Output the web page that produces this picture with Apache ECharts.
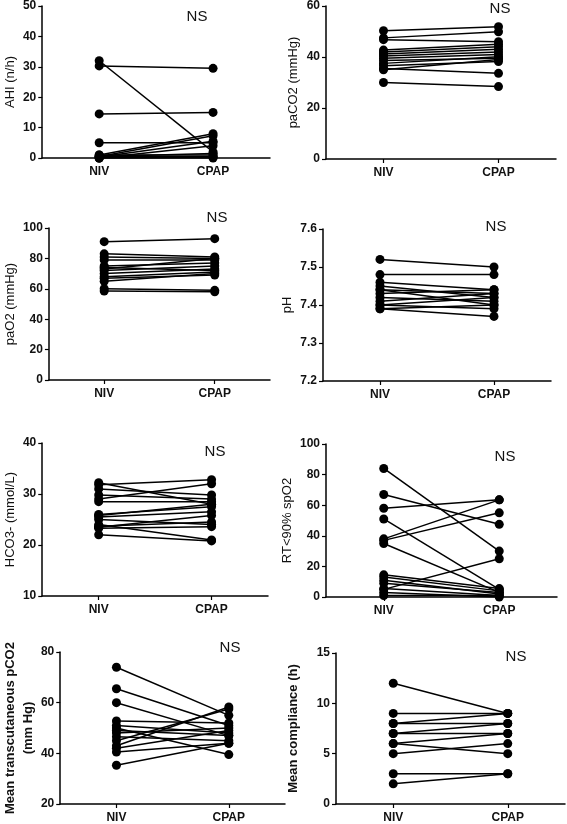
<!DOCTYPE html>
<html>
<head>
<meta charset="utf-8">
<script src="https://cdn.jsdelivr.net/npm/echarts@6/dist/echarts.min.js"></script>
<style>html,body{margin:0;padding:0;background:#fff;}#c{width:567px;height:824px;}</style>
</head>
<body>
<div id="c"></div>
<script>
var categories = ['NIV', 'CPAP'];

var ahiNIV  = [32, 30.3, 14.5, 5, 1, 0.5, 0.3, 0, 1, 0.5, 0, 0, 0.5];
var ahiCPAP = [2, 29.5, 15, 5, 8, 7.3, 5.5, 4, 1, 0.5, 0.3, 0, 1.5];

var paco2NIV  = [50.3, 47.5, 46.8, 42.7, 42, 41.2, 40.4, 39.5, 38.6, 37.5, 36.6, 35.5, 35, 30];
var paco2CPAP = [51.9, 49.9, 46, 45, 44, 43, 42, 41, 39.5, 40.1, 38.2, 33.6, 39, 28.4];

var pao2NIV  = [91, 83, 81, 79, 75, 74, 73, 72, 70, 68, 67, 65, 60, 58.5];
var pao2CPAP = [93, 81, 80, 79, 77, 72, 80, 75, 73, 71, 69, 70, 59, 58];

var phNIV  = [7.52, 7.48, 7.46, 7.45, 7.44, 7.43, 7.42, 7.41, 7.40, 7.40, 7.39, 7.39, 7.44];
var phCPAP = [7.50, 7.48, 7.44, 7.42, 7.43, 7.44, 7.41, 7.43, 7.42, 7.39, 7.37, 7.40, 7.40];

var hco3NIV  = [32.2, 31.8, 31, 29.8, 29, 28.5, 26, 25.8, 25.5, 25, 24, 23.7, 23.5, 23.3, 22];
var hco3CPAP = [28, 32.8, 29.8, 29, 32, 28.5, 27.5, 28, 26.5, 24, 21, 24.5, 25.8, 23.6, 20.8];

var rtNIV  = [84, 67, 58, 51, 38, 37, 35, 5, 14.5, 13, 11, 9, 5.5, 3, 1];
var rtCPAP = [30, 47.5, 63.5, 5, 63.5, 55, 3, 25, 5.5, 4, 2, 3, 1, 0, 1];

var tcNIV  = [74, 65.5, 60, 52.8, 51, 50, 49, 48, 46.5, 45, 43, 42, 40.5, 35.3];
var tcCPAP = [55, 51, 47, 52, 48, 39.5, 47, 50, 45, 57.5, 58.3, 49, 44, 44];

var compNIV  = [12, 9, 8, 8, 7, 7, 6, 6, 5, 3, 2];
var compCPAP = [9, 9, 9, 8, 8, 7, 7, 5, 6, 3, 3];

var yTitles = ['AHI (n/h)', 'paCO2 (mmHg)', 'paO2 (mmHg)', 'pH', 'HCO3- (mmol/L)', 'RT<90% spO2', 'Mean transcutaneous pCO2\n(mm Hg)', 'Mean compliance (h)'];
var sigLabels = ['NS', 'NS', 'NS', 'NS', 'NS', 'NS', 'NS', 'NS'];

var panels = [
  {niv: ahiNIV, cpap: ahiCPAP, min: 0, max: 50, interval: 10, dec: 0,
   grid: {left: 41, top: 6, width: 229, height: 152}, gap: 22, bold: false, ns: [197, 17]},
  {niv: paco2NIV, cpap: paco2CPAP, min: 0, max: 60, interval: 20, dec: 0,
   grid: {left: 326, top: 6, width: 230, height: 153}, gap: 21, bold: false, ns: [500, 9]},
  {niv: pao2NIV, cpap: pao2CPAP, min: 0, max: 100, interval: 20, dec: 0,
   grid: {left: 41, top: 228, width: 229, height: 152}, gap: 26, bold: false, ns: [217, 218]},
  {niv: phNIV, cpap: phCPAP, min: 7.2, max: 7.6, interval: 0.1, dec: 1,
   grid: {left: 323, top: 229, width: 228, height: 152}, gap: 26, bold: false, ns: [496, 227]},
  {niv: hco3NIV, cpap: hco3CPAP, min: 10, max: 40, interval: 10, dec: 0,
   grid: {left: 40, top: 443, width: 228, height: 153}, gap: 22, bold: false, ns: [215, 452]},
  {niv: rtNIV, cpap: rtCPAP, min: 0, max: 100, interval: 20, dec: 0,
   grid: {left: 326, top: 444, width: 231, height: 153}, gap: 26, bold: false, ns: [505, 457]},
  {niv: tcNIV, cpap: tcCPAP, min: 20, max: 80, interval: 20, dec: 0,
   grid: {left: 53, top: 652, width: 232, height: 153}, gap: 19, bold: true, ns: [230, 648]},
  {niv: compNIV, cpap: compCPAP, min: 0, max: 15, interval: 5, dec: 0,
   grid: {left: 336, top: 653, width: 229, height: 153}, gap: 34, bold: true, ns: [516, 657]}
];

var FONT = 'Liberation Sans, Arial, sans-serif';
var grids = [], xAxes = [], yAxes = [], series = [], graphics = [];

panels.forEach(function (p, k) {
  grids.push(p.grid);
  xAxes.push({
    type: 'category', gridIndex: k, data: categories, boundaryGap: true,
    axisLine: {lineStyle: {color: '#000', width: 1.5}},
    axisTick: {show: true, alignWithLabel: true, length: 4, lineStyle: {color: '#000', width: 1.2}},
    axisLabel: {color: '#111', fontFamily: FONT, fontSize: 12, fontWeight: 'bold', margin: 8},
    splitLine: {show: false}
  });
  (function (dec) {
    yAxes.push({
      type: 'value', gridIndex: k, min: p.min, max: p.max, interval: p.interval,
      name: yTitles[k], nameLocation: 'middle', nameGap: p.gap, nameRotate: 90,
      nameTextStyle: {color: '#111', fontFamily: FONT, fontSize: 13, fontWeight: p.bold ? 'bold' : 'normal', lineHeight: 18},
      axisLine: {show: true, lineStyle: {color: '#000', width: 1.5}},
      axisTick: {show: true, length: 4, lineStyle: {color: '#000', width: 1.2}},
      axisLabel: {color: '#111', fontFamily: FONT, fontSize: 12, fontWeight: 'bold', margin: 6,
        formatter: function (v) { return (Math.round(v * 1000) / 1000).toFixed(dec); }},
      splitLine: {show: false}
    });
  })(p.dec);
  for (var i = 0; i < p.niv.length; i++) {
    series.push({
      type: 'line', xAxisIndex: k, yAxisIndex: k,
      data: [p.niv[i], p.cpap[i]],
      symbol: 'circle', symbolSize: 9, showSymbol: true,
      lineStyle: {color: '#000', width: 1.5},
      itemStyle: {color: '#000'},
      animation: false, silent: true
    });
  }
  graphics.push({
    type: 'text', x: p.ns[0], y: p.ns[1],
    style: {text: sigLabels[k], fill: '#111', font: '15px ' + FONT, textAlign: 'center', textVerticalAlign: 'middle'}
  });
});

var chart = echarts.init(document.getElementById('c'), null, {renderer: 'canvas'});
chart.setOption({
  animation: false,
  backgroundColor: '#fff',
  grid: grids,
  xAxis: xAxes,
  yAxis: yAxes,
  series: series,
  graphic: graphics
});
</script>
</body>
</html>
